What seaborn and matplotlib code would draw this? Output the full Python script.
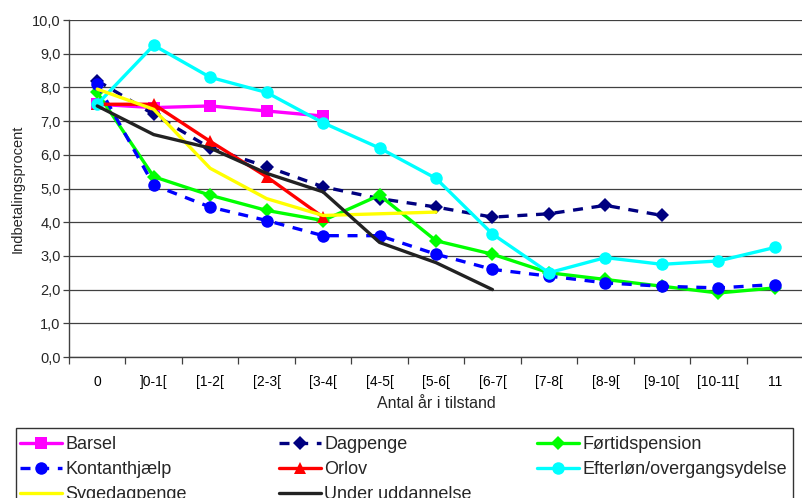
import matplotlib
matplotlib.use("Agg")
import matplotlib.pyplot as plt
import seaborn as sns
import numpy as np
import pandas as pd
from matplotlib.patches import Rectangle
from matplotlib.ticker import FuncFormatter, MultipleLocator

categories = ["0", "]0-1[", "[1-2[", "[2-3[", "[3-4[", "[4-5[", "[5-6[",
              "[6-7[", "[7-8[", "[8-9[", "[9-10[", "[10-11[", "11"]

barsel = [7.5, 7.4, 7.45, 7.3, 7.15]
dagpenge = [8.2, 7.2, 6.2, 5.65, 5.05, 4.7, 4.45, 4.15, 4.25, 4.5, 4.2]
fortidspension = [7.85, 5.35, 4.8, 4.35, 4.05, 4.8, 3.45, 3.05, 2.5, 2.3, 2.1, 1.9, 2.05]
kontanthjaelp = [8.1, 5.1, 4.45, 4.05, 3.6, 3.6, 3.05, 2.6, 2.4, 2.2, 2.1, 2.05, 2.15]
orlov = [7.5, 7.5, 6.4, 5.35, 4.15]
efterlon = [7.5, 9.25, 8.3, 7.85, 6.95, 6.2, 5.3, 3.65, 2.5, 2.95, 2.75, 2.85, 3.25]
sygedagpenge = [7.95, 7.35, 5.6, 4.7, 4.2, 4.25, 4.3]
under_uddannelse = [7.45, 6.6, 6.2, 5.45, 4.9, 3.4, 2.8, 2.0]

dash = (0, (3, 2.6))
series = [
    ("Barsel", barsel, dict(color="#FF00FF", marker="s", markersize=9, linestyle="-")),
    ("Dagpenge", dagpenge, dict(color="#000080", marker="D", markersize=7, linestyle=dash)),
    ("Førtidspension", fortidspension, dict(color="#00FF00", marker="D", markersize=7, linestyle="-")),
    ("Kontanthjælp", kontanthjaelp, dict(color="#0000FF", marker="o", markersize=9, linestyle=dash)),
    ("Orlov", orlov, dict(color="#FF0000", marker="^", markersize=9, linestyle="-")),
    ("Efterløn/overgangsydelse", efterlon, dict(color="#00FFFF", marker="o", markersize=9, linestyle="-")),
    ("Sygedagpenge", sygedagpenge, dict(color="#FFFF00", marker=None, linestyle="-")),
    ("Under uddannelse", under_uddannelse, dict(color="#222222", marker=None, linestyle="-")),
]

sns.set_theme(style="white")
plt.rcParams["font.family"] = ["Liberation Sans", "DejaVu Sans"]

W, H = 802, 498
fig = plt.figure(figsize=(W / 100, H / 100), dpi=100)
ax = fig.add_axes([69 / W, 1 - 357 / H, 734 / W, 337 / H])

handles = {}
for name, vals, st in series:
    df = pd.DataFrame({"x": np.arange(len(vals)), "y": vals})
    sns.lineplot(data=df, x="x", y="y", ax=ax, color=st["color"], linewidth=2.4,
                 marker=st["marker"], markersize=st.get("markersize", 0),
                 markeredgecolor=st["color"], markeredgewidth=0,
                 linestyle=st["linestyle"], label=name, legend=False)
    handles[name] = ax.lines[-1]

ax.set_xlim(-0.5, len(categories) - 0.5)
ax.set_ylim(0, 10)
ax.yaxis.set_major_locator(MultipleLocator(1))
ax.yaxis.set_major_formatter(FuncFormatter(lambda v, p: f"{v:.1f}".replace(".", ",")))
ax.set_xticks(np.arange(len(categories)))
ax.set_xticklabels(categories)
ax.set_xticks(np.arange(len(categories) + 1) - 0.5, minor=True)
ax.tick_params(axis="x", which="major", length=0, pad=13, labelsize=10, colors="#000000")
ax.tick_params(axis="x", which="minor", length=5, width=0.9, color="#404040", bottom=True)
ax.tick_params(axis="y", which="major", length=4, width=0.9, color="#404040", left=True,
               labelsize=10.5, pad=2)
ax.grid(axis="y", color="#404040", linewidth=0.9)
ax.grid(axis="x", visible=False)
ax.set_axisbelow(True)
for s in ["top", "right"]:
    ax.spines[s].set_visible(False)
for s in ["left", "bottom"]:
    ax.spines[s].set_color("#404040")
    ax.spines[s].set_linewidth(1.0)

ax.set_xlabel("Antal år i tilstand", fontsize=11.5, labelpad=5)
ax.set_ylabel("Indbetalingsprocent", fontsize=10.5, labelpad=5)

# Legend: a single box holding three fixed-position columns
columns = [
    (20, ["Barsel", "Kontanthjælp", "Sygedagpenge"]),
    (279, ["Dagpenge", "Orlov", "Under uddannelse"]),
    (537, ["Førtidspension", "Efterløn/overgangsydelse"]),
]
for x0, names in columns:
    fig.legend([handles[n] for n in names], names, ncol=1,
               loc="upper left", bbox_to_anchor=(x0 / W, 1 - 436 / H),
               frameon=False, fontsize=13, handlelength=2.3,
               handletextpad=0.2, borderaxespad=0, borderpad=0,
               labelspacing=0.45)
fig.patches.append(Rectangle((16 / W, -0.05), (793 - 16) / W, 0.05 + (H - 428) / H,
                             transform=fig.transFigure, fill=False,
                             edgecolor="#333333", linewidth=1.0))

fig.savefig("out.png", dpi=100)
